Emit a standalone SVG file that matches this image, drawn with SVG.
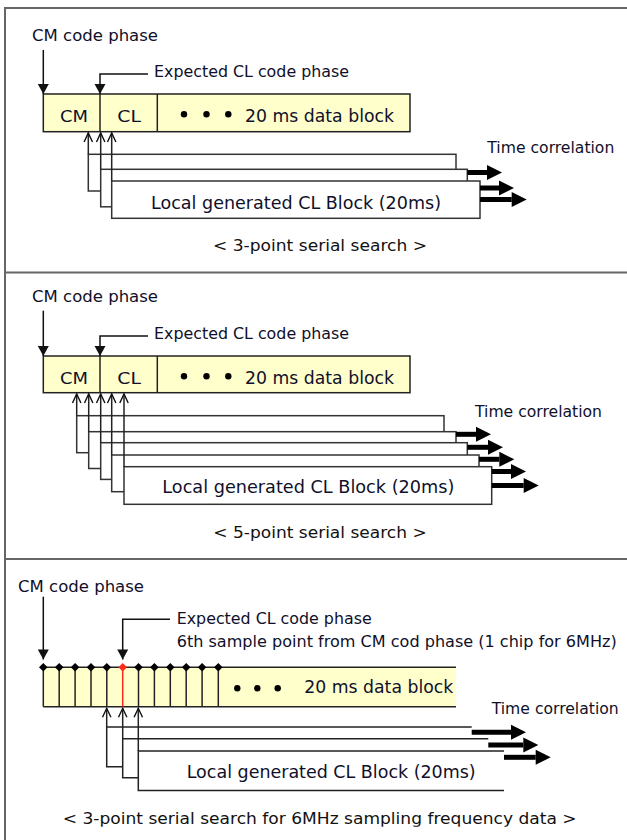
<svg xmlns="http://www.w3.org/2000/svg" width="627" height="840" viewBox="0 0 627 840">
<style>
  .t{font-family:"DejaVu Sans","Liberation Sans",sans-serif;font-size:15.5px;fill:#10102a}
  .big{font-size:18px}
  .mid{font-size:17px}
  .cap{font-family:"DejaVu Sans","Liberation Sans",sans-serif;font-size:15px;fill:#111}
  .blk{fill:#FFFFCC;stroke:#222;stroke-width:1.5}
  .ln{stroke:#222;stroke-width:1.5;fill:none}
  .box{fill:#fff;stroke:#333;stroke-width:1.5}
  .boxfill{fill:#fff;stroke:none}
  .frame{stroke:#666;stroke-width:2;fill:none}
  .dn{stroke:#111;stroke-width:1.5;fill:none;marker-end:url(#down)}
  .up{stroke:#222;stroke-width:1.5;fill:none;marker-end:url(#up)}
  .thick{stroke:#000;stroke-width:5;fill:none;marker-end:url(#big)}
  .dot{fill:#000}
  .dia{fill:#000}
</style>
<defs>
  <marker id="down" markerUnits="userSpaceOnUse" markerWidth="12" markerHeight="12" orient="auto" overflow="visible">
    <path d="M-10,-5.5 L0,0 L-10,5.5 Z" fill="#111"/>
  </marker>
  <marker id="up" markerUnits="userSpaceOnUse" markerWidth="12" markerHeight="12" orient="auto" overflow="visible">
    <path d="M-9,-4.2 L0,0 L-9,4.2" fill="none" stroke="#111" stroke-width="1.4"/>
  </marker>
  <marker id="big" markerUnits="userSpaceOnUse" markerWidth="20" markerHeight="20" orient="auto" overflow="visible">
    <path d="M0,-7.5 L15,0 L0,7.5 Z" fill="#000"/>
  </marker>
  <clipPath id="capclip"><rect x="0" y="790" width="627" height="36.7"/></clipPath>
  <path id="d" d="M0,-4.3 L4.3,0 L0,4.3 L-4.3,0 Z"/>
</defs>

<g id="frame">
  <path class="frame" d="M5,840 L5,8 L627,8"/>
  <line class="frame" x1="5" y1="272.5" x2="627" y2="272.5"/>
  <line class="frame" x1="5" y1="559" x2="627" y2="559"/>
</g>

<!-- ================= Panel 1 ================= -->
<g id="p1-cm-label"><text class="t" x="32" y="41" textLength="126" lengthAdjust="spacingAndGlyphs">CM code phase</text></g>
<g id="p1-exp-label"><text class="t" x="154" y="77" textLength="195" lengthAdjust="spacingAndGlyphs">Expected CL code phase</text></g>
<g id="p1-block">
  <rect class="blk" x="43.3" y="94" width="366.7" height="37.7"/>
  <line class="ln" x1="100" y1="94" x2="100" y2="131.7"/>
  <line class="ln" x1="157.3" y1="94" x2="157.3" y2="131.7"/>
  <text class="t" x="60" y="121.7" font-size="16" textLength="28" lengthAdjust="spacingAndGlyphs">CM</text>
  <text class="t" x="117.3" y="121.7" font-size="16" textLength="23.7" lengthAdjust="spacingAndGlyphs">CL</text>
  <circle class="dot" cx="184" cy="114.3" r="3.2"/>
  <circle class="dot" cx="206.5" cy="114.3" r="3.2"/>
  <circle class="dot" cx="228.3" cy="114.3" r="3.2"/>
  <text class="t big" x="245" y="121.5" textLength="149" lengthAdjust="spacingAndGlyphs">20 ms data block</text>
</g>
<g id="p1-local1"><rect class="box" x="88.3" y="154.3" width="367.7" height="36.7"/></g>
<g id="p1-local2"><rect class="box" x="100.7" y="169.3" width="366.6" height="37.5"/></g>
<g id="p1-local3">
  <rect class="box" x="111.7" y="181" width="368.3" height="37.3"/>
  <text class="t mid" x="151" y="209" textLength="290" lengthAdjust="spacingAndGlyphs">Local generated CL Block (20ms)</text>
</g>
<g id="p1-time"><text class="t" x="487.3" y="152.7" textLength="127" lengthAdjust="spacingAndGlyphs">Time correlation</text></g>
<g id="p1-caption"><text class="cap" x="213" y="250.5" textLength="214" lengthAdjust="spacingAndGlyphs">&lt; 3-point serial search &gt;</text></g>

<!-- ================= Panel 2 ================= -->
<g id="p2-cm-label"><text class="t" x="32" y="302.3" textLength="126" lengthAdjust="spacingAndGlyphs">CM code phase</text></g>
<g id="p2-exp-label"><text class="t" x="154" y="339" textLength="195" lengthAdjust="spacingAndGlyphs">Expected CL code phase</text></g>
<g id="p2-block">
  <rect class="blk" x="43.3" y="356" width="366.7" height="36.7"/>
  <line class="ln" x1="100" y1="356" x2="100" y2="392.7"/>
  <line class="ln" x1="157.3" y1="356" x2="157.3" y2="392.7"/>
  <text class="t" x="60" y="383.7" font-size="16" textLength="28" lengthAdjust="spacingAndGlyphs">CM</text>
  <text class="t" x="117.3" y="383.7" font-size="16" textLength="23.7" lengthAdjust="spacingAndGlyphs">CL</text>
  <circle class="dot" cx="184" cy="376.3" r="3.2"/>
  <circle class="dot" cx="206.5" cy="376.3" r="3.2"/>
  <circle class="dot" cx="228.3" cy="376.3" r="3.2"/>
  <text class="t big" x="245" y="383.5" textLength="149" lengthAdjust="spacingAndGlyphs">20 ms data block</text>
</g>
<g id="p2-local1"><rect class="box" x="76.7" y="415.7" width="367.3" height="37"/></g>
<g id="p2-local2"><rect class="box" x="88.7" y="431.7" width="367.3" height="36.8"/></g>
<g id="p2-local3"><rect class="box" x="100.7" y="442.7" width="366.6" height="36.7"/></g>
<g id="p2-local4"><rect class="box" x="111.7" y="455" width="367.3" height="36.7"/></g>
<g id="p2-local5">
  <rect class="box" x="124" y="466.7" width="367.7" height="37.6"/>
  <text class="t mid" x="162.3" y="493.3" textLength="292" lengthAdjust="spacingAndGlyphs">Local generated CL Block (20ms)</text>
</g>
<g id="p2-time"><text class="t" x="475" y="416.7" textLength="127" lengthAdjust="spacingAndGlyphs">Time correlation</text></g>
<g id="p2-caption"><text class="cap" x="213.3" y="538" textLength="213.4" lengthAdjust="spacingAndGlyphs">&lt; 5-point serial search &gt;</text></g>

<!-- ================= Panel 3 ================= -->
<g id="p3-cm-label"><text class="t" x="18" y="591.7" textLength="126" lengthAdjust="spacingAndGlyphs">CM code phase</text></g>
<g id="p3-exp-label">
  <text class="t" x="176.7" y="624" textLength="195" lengthAdjust="spacingAndGlyphs">Expected CL code phase</text>
  <text class="t" x="176.7" y="647" textLength="440" lengthAdjust="spacingAndGlyphs">6th sample point from CM cod phase (1 chip for 6MHz)</text>
</g>
<g id="p3-block">
  <rect x="43.3" y="667.3" width="412.7" height="39.4" fill="#FFFFCC"/>
  <line class="ln" x1="43.3" y1="667.3" x2="456" y2="667.3"/>
  <line class="ln" x1="43.3" y1="706.7" x2="456" y2="706.7"/>
  <g class="ln">
    <line x1="43.3" y1="667.3" x2="43.3" y2="706.7"/>
    <line x1="59.2" y1="667.3" x2="59.2" y2="706.7"/>
    <line x1="75.1" y1="667.3" x2="75.1" y2="706.7"/>
    <line x1="91" y1="667.3" x2="91" y2="706.7"/>
    <line x1="106.8" y1="667.3" x2="106.8" y2="706.7"/>
    <line x1="138.5" y1="667.3" x2="138.5" y2="706.7"/>
    <line x1="154.4" y1="667.3" x2="154.4" y2="706.7"/>
    <line x1="170.3" y1="667.3" x2="170.3" y2="706.7"/>
    <line x1="186.2" y1="667.3" x2="186.2" y2="706.7"/>
    <line x1="202.1" y1="667.3" x2="202.1" y2="706.7"/>
    <line x1="218.3" y1="667.3" x2="218.3" y2="706.7"/>
  </g>
  <line x1="122.7" y1="667.3" x2="122.7" y2="706.7" stroke="#ff2a1a" stroke-width="1.5"/>
  <g class="dia">
    <use href="#d" x="43.3" y="667.3"/>
    <use href="#d" x="59.2" y="667.3"/>
    <use href="#d" x="75.1" y="667.3"/>
    <use href="#d" x="91" y="667.3"/>
    <use href="#d" x="106.8" y="667.3"/>
    <use href="#d" x="138.5" y="667.3"/>
    <use href="#d" x="154.4" y="667.3"/>
    <use href="#d" x="170.3" y="667.3"/>
    <use href="#d" x="186.2" y="667.3"/>
    <use href="#d" x="202.1" y="667.3"/>
    <use href="#d" x="218.3" y="667.3"/>
  </g>
  <use href="#d" x="122.7" y="667.3" fill="#ff2a1a"/>
  <circle class="dot" cx="237.3" cy="688.3" r="3.2"/>
  <circle class="dot" cx="257.3" cy="688.3" r="3.2"/>
  <circle class="dot" cx="277.7" cy="688.3" r="3.2"/>
  <text class="t big" x="304.3" y="693.3" textLength="149" lengthAdjust="spacingAndGlyphs">20 ms data block</text>
</g>
<g id="p3-local1">
  <rect class="boxfill" x="106.7" y="727" width="365" height="39.7"/>
  <path class="ln" d="M471.7,727 L106.7,727 L106.7,766.7 L471.7,766.7"/>
</g>
<g id="p3-local2">
  <rect class="boxfill" x="122.7" y="738.7" width="365.6" height="39"/>
  <path class="ln" d="M488.3,738.7 L122.7,738.7 L122.7,777.7 L488.3,777.7"/>
</g>
<g id="p3-local3">
  <rect class="boxfill" x="138.3" y="751" width="365.7" height="39.5"/>
  <path class="ln" d="M504,751 L138.3,751 L138.3,790.5 L504,790.5"/>
  <text class="t mid" x="186.7" y="778.3" textLength="289" lengthAdjust="spacingAndGlyphs">Local generated CL Block (20ms)</text>
</g>
<g id="p3-time"><text class="t" x="491.7" y="714.3" textLength="127" lengthAdjust="spacingAndGlyphs">Time correlation</text></g>
<g id="p3-caption" clip-path="url(#capclip)"><text class="cap" x="62.7" y="824" textLength="514" lengthAdjust="spacingAndGlyphs">&lt; 3-point serial search for 6MHz sampling frequency data &gt;</text></g>

<!-- ================= Connectors ================= -->
<g id="connectors">
  <!-- panel 1 -->
  <line class="dn" x1="43.3" y1="50" x2="43.3" y2="94"/>
  <polyline class="dn" points="148,74 100,74 100,94"/>
  <line class="up" x1="88.3" y1="154.3" x2="88.3" y2="133"/>
  <line class="up" x1="100.7" y1="169.3" x2="100.7" y2="133"/>
  <line class="up" x1="111.7" y1="181" x2="111.7" y2="133"/>
  <line class="thick" x1="467.3" y1="172.5" x2="487" y2="172.5"/>
  <line class="thick" x1="480" y1="188" x2="499" y2="188"/>
  <line class="thick" x1="480" y1="199.5" x2="511.7" y2="199.5"/>
  <!-- panel 2 -->
  <line class="dn" x1="43.3" y1="310.7" x2="43.3" y2="356"/>
  <polyline class="dn" points="148,336 100,336 100,356"/>
  <line class="up" x1="76.7" y1="415.7" x2="76.7" y2="394"/>
  <line class="up" x1="88.7" y1="431.7" x2="88.7" y2="394"/>
  <line class="up" x1="100.7" y1="442.7" x2="100.7" y2="394"/>
  <line class="up" x1="111.7" y1="455" x2="111.7" y2="394"/>
  <line class="up" x1="124" y1="466.7" x2="124" y2="394"/>
  <line class="thick" x1="456" y1="434.3" x2="476" y2="434.3"/>
  <line class="thick" x1="467.3" y1="447.3" x2="488" y2="447.3"/>
  <line class="thick" x1="479" y1="459.3" x2="499.3" y2="459.3"/>
  <line class="thick" x1="491.7" y1="471.5" x2="511" y2="471.5"/>
  <line class="thick" x1="491.7" y1="485.5" x2="523.7" y2="485.5"/>
  <!-- panel 3 -->
  <line class="dn" x1="43.3" y1="596.7" x2="43.3" y2="659.5"/>
  <polyline class="dn" points="170,619.3 122.7,619.3 122.7,659.5"/>
  <line class="up" x1="106.7" y1="727" x2="106.7" y2="708.3"/>
  <line class="up" x1="122.7" y1="738.7" x2="122.7" y2="708.3"/>
  <line class="up" x1="138.3" y1="751" x2="138.3" y2="708.3"/>
  <line class="thick" x1="471.7" y1="732.3" x2="511" y2="732.3"/>
  <line class="thick" x1="488.3" y1="745" x2="523.3" y2="745"/>
  <line class="thick" x1="504" y1="757.3" x2="535.7" y2="757.3"/>
</g>
</svg>
